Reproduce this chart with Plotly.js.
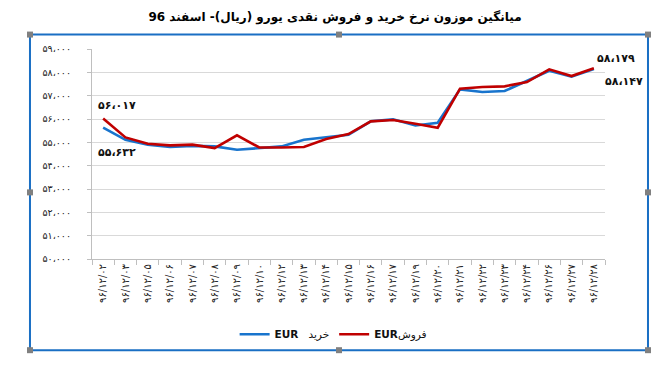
<!DOCTYPE html>
<html>
<head>
<meta charset="utf-8">
<script src="https://cdn.plot.ly/plotly-3.0.1.min.js"></script>
<style>html,body{margin:0;padding:0;background:#fff;}#chart{width:670px;height:368px;}</style>
</head>
<body>
<div id="chart"></div>
<script>
const dates = ['۹۶/۱۲/۰۲','۹۶/۱۲/۰۳','۹۶/۱۲/۰۵','۹۶/۱۲/۰۶','۹۶/۱۲/۰۷','۹۶/۱۲/۰۸','۹۶/۱۲/۰۹','۹۶/۱۲/۱۰','۹۶/۱۲/۱۲','۹۶/۱۲/۱۳','۹۶/۱۲/۱۴','۹۶/۱۲/۱۵','۹۶/۱۲/۱۶','۹۶/۱۲/۱۷','۹۶/۱۲/۱۹','۹۶/۱۲/۲۰','۹۶/۱۲/۲۱','۹۶/۱۲/۲۲','۹۶/۱۲/۲۳','۹۶/۱۲/۲۴','۹۶/۱۲/۲۶','۹۶/۱۲/۲۷','۹۶/۱۲/۲۸'];
const buyEUR  = [55632, 55110, 54900, 54800, 54850, 54825, 54680, 54750, 54825, 55110, 55210, 55325, 55900, 55985, 55725, 55840, 57270, 57155, 57200, 57630, 58070, 57815, 58147];
const sellEUR = [56017, 55210, 54940, 54870, 54900, 54755, 55300, 54780, 54780, 54800, 55140, 55355, 55900, 55955, 55800, 55625, 57300, 57370, 57400, 57585, 58130, 57840, 58179];
const yTickVals = [50000, 51000, 52000, 53000, 54000, 55000, 56000, 57000, 58000, 59000];
const yTickText = ['۵۰،۰۰۰','۵۱،۰۰۰','۵۲،۰۰۰','۵۳،۰۰۰','۵۴،۰۰۰','۵۵،۰۰۰','۵۶،۰۰۰','۵۷،۰۰۰','۵۸،۰۰۰','۵۹،۰۰۰'];
const seriesNames = ['<b>EUR</b>   خرید', '<b>EUR</b>فروش'];
const pointLabels = {sellFirst: '۵۶،۰۱۷', buyFirst: '۵۵،۶۳۲', sellLast: '۵۸،۱۷۹', buyLast: '۵۸،۱۴۷'};
const titleText = 'میانگین موزون نرخ خرید و فروش نقدی یورو (ریال)- اسفند 96';

const blue = '#1874cd', red = '#c00000';
const last = dates.length - 1;

const traces = [
  {x: dates, y: buyEUR, type: 'scatter', mode: 'lines', name: seriesNames[0],
   line: {color: blue, width: 2.6}},
  {x: dates, y: sellEUR, type: 'scatter', mode: 'lines', name: seriesNames[1],
   line: {color: red, width: 2.6}}
];

const lblFont = {family: 'DejaVu Sans', size: 11, color: '#111', weight: 'bold'};
function handle(px, py) {
  return {type: 'rect', xref: 'paper', yref: 'paper', x0: px, x1: px, y0: py, y1: py,
    xsizemode: 'pixel', ysizemode: 'pixel', xanchor: px, yanchor: py,
    x0: -3, x1: 3, y0: -3, y1: 3, fillcolor: '#808080', line: {width: 0}};
}
const fx0 = -0.1209, fx1 = 1.0838, fy0 = -0.4342, fy1 = 1.0687;
const fxm = (fx0 + fx1) / 2, fym = (fy0 + fy1) / 2;

const layout = {
  width: 670, height: 368,
  margin: {l: 92, r: 65, t: 49, b: 109},
  paper_bgcolor: '#fff', plot_bgcolor: '#fff',
  title: {text: '\u202B' + titleText + '\u202C', x: 0.5, xanchor: 'center', y: 1 - 17/368, yanchor: 'middle', yref: 'container',
    font: {family: 'DejaVu Sans', size: 12, color: '#000', weight: 'bold'}},
  showlegend: true,
  legend: {orientation: 'h', x: 0.278, xanchor: 'left', y: -0.358, yanchor: 'middle',
    font: {family: 'DejaVu Sans', size: 10.5, color: '#111'}, itemwidth: 30, tracegroupgap: 0,
    traceorder: 'normal', bgcolor: 'rgba(0,0,0,0)'},
  xaxis: {type: 'category', range: [-0.5, dates.length - 0.5], tickangle: -90,
    ticks: 'outside', tickson: 'boundaries', ticklen: 5, tickcolor: '#bfbfbf',
    showline: true, linecolor: '#bfbfbf', linewidth: 1, showgrid: false,
    tickfont: {family: 'DejaVu Sans', size: 10, color: '#222'}, fixedrange: true},
  yaxis: {range: [50000, 59000], tickvals: yTickVals, ticktext: yTickText,
    ticks: 'outside', ticklen: 4, tickcolor: '#bfbfbf', ticklabelstandoff: 14,
    showline: true, linecolor: '#bfbfbf', linewidth: 1,
    showgrid: true, gridcolor: '#d9d9d9', gridwidth: 1, zeroline: false,
    tickfont: {family: 'DejaVu Sans', size: 9.5, color: '#222'}, fixedrange: true},
  annotations: [
    {x: dates[0], y: sellEUR[0], text: pointLabels.sellFirst, showarrow: false, xanchor: 'left', yanchor: 'bottom', xshift: -7, yshift: 5, font: lblFont},
    {x: dates[0], y: buyEUR[0], text: pointLabels.buyFirst, showarrow: false, xanchor: 'left', yanchor: 'top', xshift: -7, yshift: -16, font: lblFont},
    {x: dates[last], y: sellEUR[last], text: pointLabels.sellLast, showarrow: false, xanchor: 'left', yanchor: 'bottom', xshift: 1, yshift: 1, font: lblFont},
    {x: dates[last], y: buyEUR[last], text: pointLabels.buyLast, showarrow: false, xanchor: 'left', yanchor: 'top', xshift: 9, yshift: -4, font: lblFont}
  ],
  shapes: [
    {type: 'rect', xref: 'paper', yref: 'paper', x0: fx0, x1: fx1, y0: fy0, y1: fy1,
     line: {color: '#1a6fc4', width: 2}, fillcolor: 'rgba(0,0,0,0)', layer: 'above'},
    handle(fx0, fy1), handle(fxm, fy1), handle(fx1, fy1),
    handle(fx0, fym), handle(fx1, fym),
    handle(fx0, fy0), handle(fxm, fy0), handle(fx1, fy0)
  ]
};

Plotly.newPlot('chart', traces, layout, {displayModeBar: false, staticPlot: true});
</script>
</body>
</html>
